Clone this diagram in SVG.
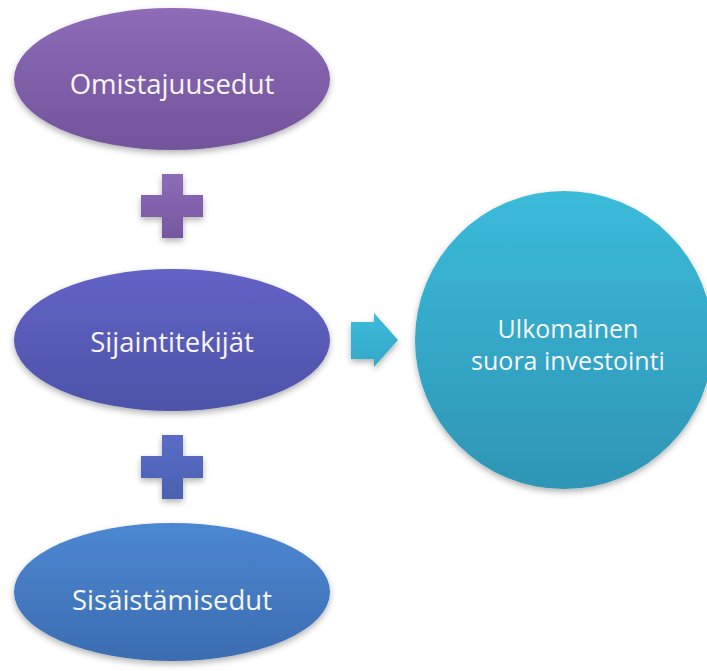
<svg xmlns="http://www.w3.org/2000/svg" width="707" height="671" viewBox="0 0 707 671">
<defs>
<linearGradient id="gTop" x1="0" y1="0" x2="0" y2="1"><stop offset="0" stop-color="#8d6cb8"/><stop offset="1" stop-color="#73539b"/></linearGradient>
<linearGradient id="gMid" x1="0" y1="0" x2="0" y2="1"><stop offset="0" stop-color="#6363c6"/><stop offset="1" stop-color="#4d53a8"/></linearGradient>
<linearGradient id="gBot" x1="0" y1="0" x2="0" y2="1"><stop offset="0" stop-color="#4c88d2"/><stop offset="1" stop-color="#3c6cb0"/></linearGradient>
<linearGradient id="gCir" x1="0" y1="0" x2="0" y2="1"><stop offset="0" stop-color="#3bbbda"/><stop offset="1" stop-color="#2e95b5"/></linearGradient>
<linearGradient id="gP1" x1="0" y1="0" x2="0" y2="1"><stop offset="0" stop-color="#8d6cb8"/><stop offset="1" stop-color="#76579f"/></linearGradient>
<linearGradient id="gP2" x1="0" y1="0" x2="0" y2="1"><stop offset="0" stop-color="#5a6cc6"/><stop offset="1" stop-color="#4a62b2"/></linearGradient>
<linearGradient id="gArr" x1="0" y1="0" x2="0" y2="1"><stop offset="0" stop-color="#3dbcda"/><stop offset="1" stop-color="#33a8c8"/></linearGradient>
<filter id="sh" x="-10%" y="-10%" width="120%" height="130%"><feDropShadow dx="0" dy="3" stdDeviation="3" flood-color="#000" flood-opacity="0.3"/></filter>
</defs>
<style>
text{font-family:"Open Sans","Noto Sans",sans-serif;fill:#f6f6f6;text-anchor:middle;font-size:27.5px}
.c{font-size:25px}
</style>
<g id="connectors">
<path id="plus1" filter="url(#sh)" fill="url(#gP1)" d="M162,174H183V195H203V217H183V238H162V217H141V195H162Z"/>
<path id="plus2" filter="url(#sh)" fill="url(#gP2)" d="M162,435H183V456H203V478H183V499H162V478H141V456H162Z"/>
<path id="arrow" filter="url(#sh)" fill="url(#gArr)" d="M351,322H374V313L398,340L374,367V359H351Z"/>
</g>
<g id="n1"><ellipse cx="172" cy="79" rx="158" ry="71" fill="url(#gTop)" filter="url(#sh)"/><text x="172" y="94">Omistajuusedut</text></g>
<g id="n2"><ellipse cx="172" cy="340" rx="158" ry="71" fill="url(#gMid)" filter="url(#sh)"/><text x="172" y="352">Sijaintitekijät</text></g>
<g id="n3"><ellipse cx="172" cy="592" rx="158" ry="69" fill="url(#gBot)" filter="url(#sh)"/><text x="172" y="610">Sisäistämisedut</text></g>
<g id="n4"><circle cx="564" cy="340" r="149" fill="url(#gCir)" filter="url(#sh)"/><text class="c" x="568" y="338">Ulkomainen</text><text class="c" x="568" y="370">suora investointi</text></g>
</svg>
